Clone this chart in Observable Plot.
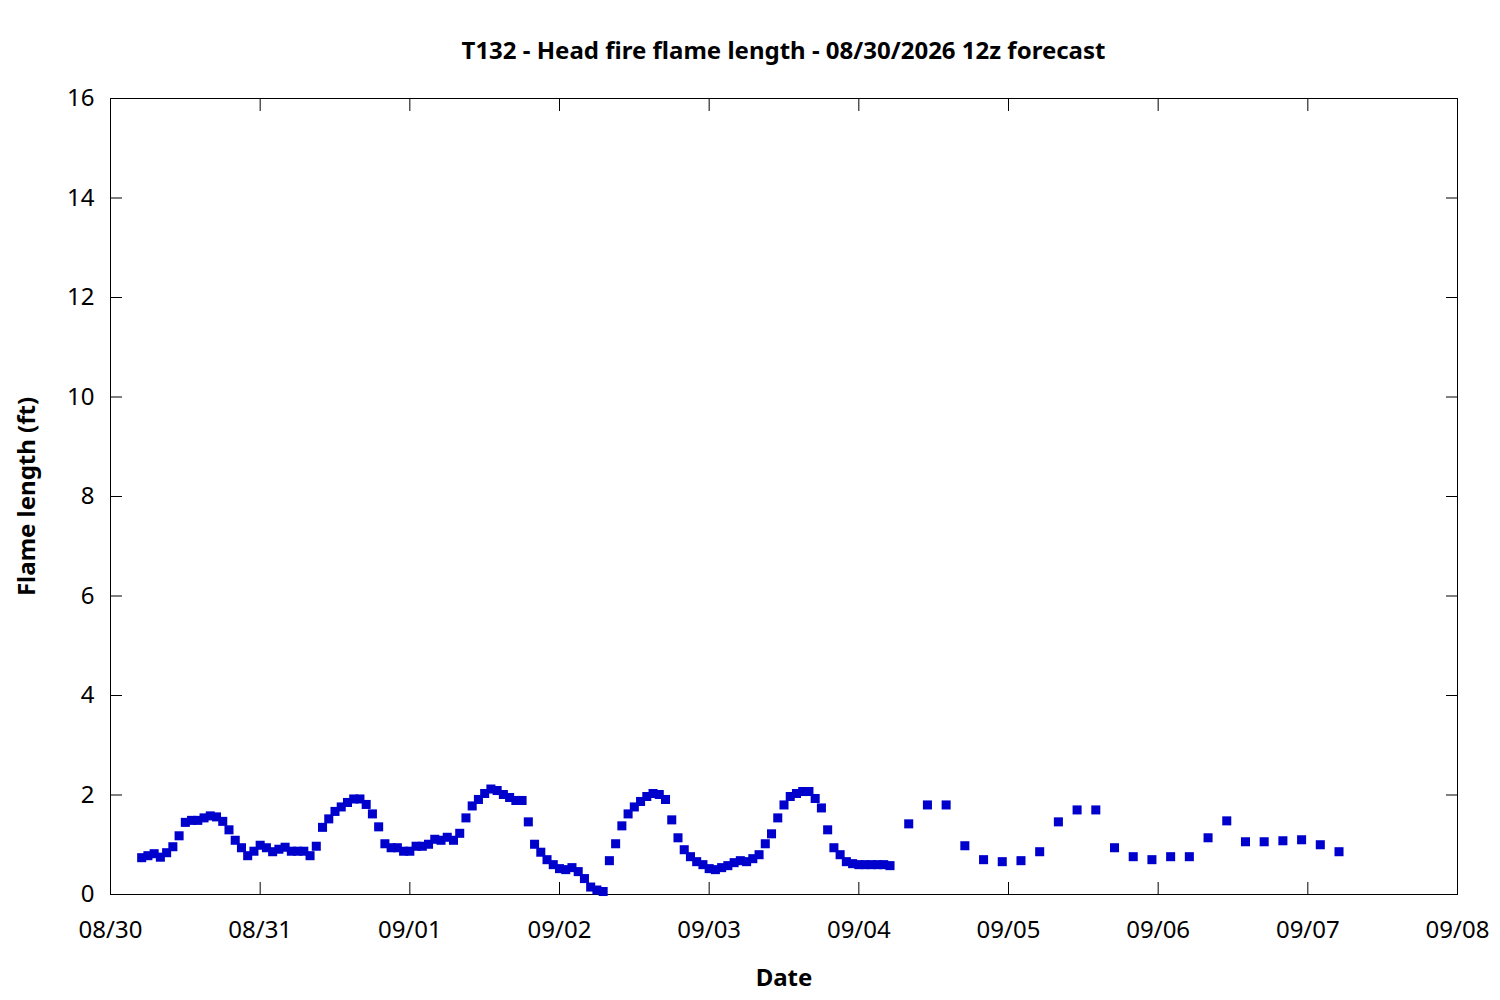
<!DOCTYPE html>
<html>
<head>
<meta charset="utf-8">
<script src="https://cdn.jsdelivr.net/npm/d3@7"></script>
<script src="https://cdn.jsdelivr.net/npm/@observablehq/plot@0.6"></script>
<style>
  body { margin: 0; background: #fff; font-family: "Noto Sans", sans-serif; }
  #wrap { position: relative; width: 1500px; height: 1000px; }
  #title { position: absolute; left: 110px; width: 1347px; top: 50px; transform: translateY(-50%);
           text-align: center; font-size: 24px; font-weight: bold; line-height: 1; color: #000; }
  #chart { position: absolute; left: 0; top: 70px; }
</style>
</head>
<body>
<div id="wrap">
  <div id="title">T132 - Head fire flame length - 08/30/2026 12z forecast</div>
  <div id="chart"></div>
</div>
<script>
// Forecast start / hourly section (08/30 05:00 onward, one value per hour)
const hourlyStart = "2026-08-30T05:00:00Z";
const hourlyValues = [
  0.74, 0.78, 0.82, 0.75, 0.84, 0.96, 1.18, 1.45, 1.49, 1.49, 1.54, 1.58, 1.56, 1.47, 1.30, 1.09, 0.94, 0.78, 0.87,
  0.99, 0.94, 0.86, 0.91, 0.95, 0.87, 0.87, 0.87, 0.78, 0.97, 1.35, 1.52, 1.67, 1.76, 1.85, 1.92, 1.92, 1.81, 1.62, 1.36, 1.02, 0.94, 0.94, 0.87,
  0.87, 0.97, 0.97, 1.01, 1.11, 1.09, 1.15, 1.09, 1.23, 1.54, 1.78, 1.91, 2.03, 2.12, 2.09, 2.01, 1.95, 1.89, 1.89, 1.46, 1.01, 0.85, 0.70, 0.60,
  0.52, 0.50, 0.54, 0.46, 0.32, 0.15, 0.09, 0.06, 0.68, 1.02, 1.38, 1.62, 1.76, 1.87, 1.97, 2.03, 2.01, 1.91, 1.50, 1.14, 0.90, 0.76, 0.66, 0.60,
  0.52, 0.50, 0.54, 0.58, 0.64, 0.68, 0.66, 0.72, 0.80, 1.02, 1.22, 1.54, 1.80, 1.97, 2.03, 2.07, 2.07, 1.93, 1.74, 1.30, 0.94, 0.80, 0.66, 0.62, 0.60,
  0.60, 0.60, 0.60, 0.60, 0.58
];
// 3-hourly section (09/04 08:00 onward, one value every 3 hours)
const threeHourlyStart = "2026-09-04T08:00:00Z";
const threeHourlyValues = [
  1.42, 1.80, 1.80, 0.98, 0.70, 0.66, 0.68, 0.86, 1.46, 1.70, 1.70, 0.94,
  0.76, 0.70, 0.76, 0.76, 1.14, 1.48, 1.06, 1.06, 1.08, 1.10, 1.00, 0.86
];
const xDomain = ["2026-08-30T00:00:00Z", "2026-09-08T00:00:00Z"];
const yTicks = [0, 2, 4, 6, 8, 10, 12, 14, 16];
const xTickFormat = "%m/%d";

const data = [
  ...hourlyValues.map((v, i) => ({t: d3.utcHour.offset(new Date(hourlyStart), i), v})),
  ...threeHourlyValues.map((v, i) => ({t: d3.utcHour.offset(new Date(threeHourlyStart), 3 * i), v}))
];
const dom = xDomain.map(d => new Date(d));
const xTicks = d3.utcDay.range(dom[0], d3.utcDay.offset(dom[1], 1));

const chart = Plot.plot({
  width: 1500,
  height: 930,
  marginTop: 28,
  marginBottom: 106,
  marginLeft: 110,
  marginRight: 43,
  style: {fontFamily: "'Noto Sans', sans-serif", fontSize: "24px", background: "white", color: "black", overflow: "visible"},
  x: {type: "utc", domain: dom},
  y: {domain: [0, 16]},
  marks: [
    Plot.frame({stroke: "black", strokeWidth: 1}),
    // inward ticks on all four sides
    Plot.axisX(xTicks, {anchor: "bottom", tickSize: 12, dy: -12, fill: "none", label: null}),
    Plot.axisX(xTicks, {anchor: "top", tickSize: 12, dy: 12, fill: "none", label: null}),
    Plot.axisY(yTicks, {anchor: "left", tickSize: 12, dx: 12, fill: "none", label: null}),
    Plot.axisY(yTicks, {anchor: "right", tickSize: 12, dx: -12, fill: "none", label: null}),
    // tick labels
    Plot.axisX(xTicks, {anchor: "bottom", tickSize: 0, tickPadding: 26, tickFormat: d3.utcFormat(xTickFormat), label: null, fill: "black"}),
    Plot.axisY(yTicks, {anchor: "left", tickSize: 0, tickPadding: 16, tickFormat: d => String(d), label: null, fill: "black"}),
    // axis titles
    Plot.text(["Date"], {frameAnchor: "bottom", dy: 84, fontWeight: "bold", fontSize: 24, fill: "black", textAnchor: "middle", lineAnchor: "middle"}),
    Plot.text(["Flame length (ft)"], {frameAnchor: "left", dx: -83, rotate: -90, fontWeight: "bold", fontSize: 24, fill: "black", textAnchor: "middle", lineAnchor: "middle"}),
    // data
    Plot.dot(data, {x: "t", y: "v", symbol: "square", r: 5.1, fill: "#0000cc", stroke: "none"})
  ]
});
document.getElementById("chart").appendChild(chart);
</script>
</body>
</html>
